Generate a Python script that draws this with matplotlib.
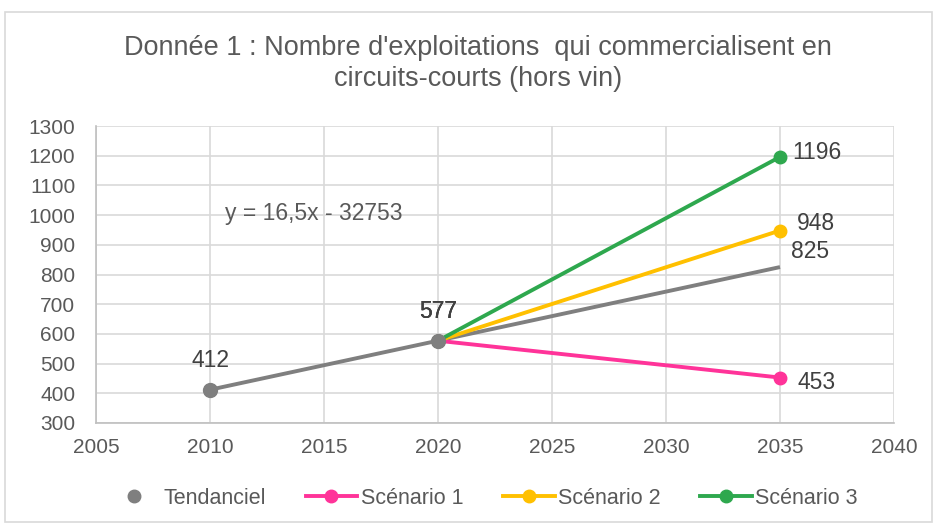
import matplotlib.pyplot as plt
from matplotlib.lines import Line2D
from matplotlib.patches import Rectangle

plt.rcParams['font.family'] = ['Liberation Sans', 'DejaVu Sans']

# data
years_obs = [2010, 2020]
tendanciel = [412, 577]
trend_years = [2010, 2035]
trend_vals = [412, 825]
scen_years = [2020, 2035]
scenario1 = [577, 453]
scenario2 = [577, 948]
scenario3 = [577, 1196]

grey = '#7f7f7f'
pink = '#ff3399'
orange = '#ffc000'
green = '#2ea84e'
txt = '#595959'
lab = '#404040'

fig = plt.figure(figsize=(9.35, 5.25), dpi=100)
ax = fig.add_axes([96 / 935, 1 - 423 / 525, 798 / 935, 297 / 525])

# chart frame
fig.patches.append(Rectangle((5 / 935, 3 / 525), 1 - 8 / 935, 1 - 15 / 525,
                             transform=fig.transFigure, fill=False,
                             edgecolor='#d9d9d9', linewidth=1.2))

lw = 2.8
ax.plot(trend_years, trend_vals, color=grey, lw=lw, solid_capstyle='butt', zorder=3)
ax.plot(scen_years, scenario1, color=pink, lw=lw, marker='o', ms=9, zorder=3)
ax.plot(scen_years, scenario2, color=orange, lw=lw, marker='o', ms=9, zorder=3)
ax.plot(scen_years, scenario3, color=green, lw=lw, marker='o', ms=9, zorder=3)
ax.scatter(years_obs, tendanciel, s=100, color=grey, zorder=5)

ax.set_xlim(2005, 2040)
ax.set_ylim(300, 1300)
ax.set_xticks(range(2005, 2041, 5))
ax.set_yticks(range(300, 1301, 100))
ax.grid(True, color='#d9d9d9', lw=1.2)
ax.set_axisbelow(True)
for s in ['top', 'right']:
    ax.spines[s].set_visible(False)
for s in ['left', 'bottom']:
    ax.spines[s].set_color('#bfbfbf')
    ax.spines[s].set_linewidth(1.2)
ax.tick_params(length=0, labelsize=15, labelcolor=txt)
ax.tick_params(axis='y', pad=15)
ax.tick_params(axis='x', pad=11)

fs = 16.5
ax.text(years_obs[0], tendanciel[0] + 97, str(tendanciel[0]), ha='center', va='center', fontsize=fs, color=lab)
for _ in range(3):
    ax.text(years_obs[1], tendanciel[1] + 97, str(tendanciel[1]), ha='center', va='center', fontsize=fs, color=lab)
ax.text(2035.55, scenario3[1] + 16, str(scenario3[1]), ha='left', va='center', fontsize=fs, color=lab)
ax.text(2035.75, scenario2[1] + 25, str(scenario2[1]), ha='left', va='center', fontsize=fs, color=lab)
ax.text(2035.48, trend_vals[1] + 54, str(trend_vals[1]), ha='left', va='center', fontsize=fs, color=lab)
ax.text(2035.75, scenario1[1] - 15, str(scenario1[1]), ha='left', va='center', fontsize=fs, color=lab)
ax.text(2010.66, 1004, 'y = 16,5x - 32753', ha='left', va='center', fontsize=16.5, color=txt)

fig.text(478 / 935, 1 - 63.5 / 525, "Donnée 1 : Nombre d'exploitations  qui commercialisent en\ncircuits-courts (hors vin)",
         ha='center', va='center', fontsize=19.5, color=txt, linespacing=1.25)

handles = [
    Line2D([], [], color=grey, marker='o', ls='none', ms=9),
    Line2D([], [], color=pink, marker='o', lw=lw, ms=9),
    Line2D([], [], color=orange, marker='o', lw=lw, ms=9),
    Line2D([], [], color=green, marker='o', lw=lw, ms=9),
]
fig.legend(handles, ['Tendanciel', 'Scénario 1', 'Scénario 2', 'Scénario 3'],
           loc='center', bbox_to_anchor=(483 / 935, 1 - 498 / 525), ncol=4, frameon=False,
           fontsize=15.5, labelcolor=txt, handlelength=2.4, handletextpad=0.15,
           columnspacing=1.85, borderpad=0.2)

fig.savefig('out.png', dpi=100)
